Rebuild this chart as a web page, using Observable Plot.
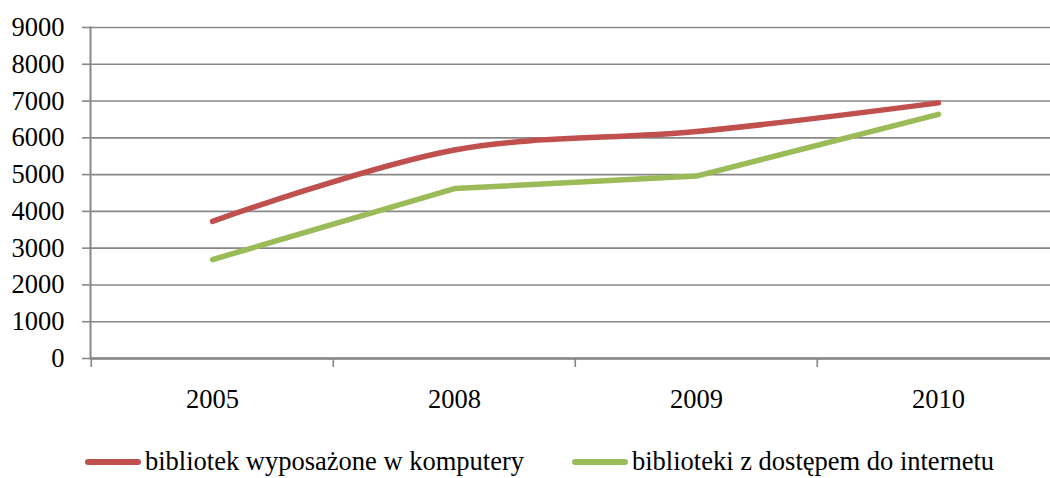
<!DOCTYPE html>
<html>
<head>
<meta charset="utf-8">
<script src="https://cdn.jsdelivr.net/npm/d3@7"></script>
<script src="https://cdn.jsdelivr.net/npm/@observablehq/plot@0.6"></script>
<style>
  html, body { margin: 0; padding: 0; background: #fff; overflow: hidden; }
  #chart { width: 1060px; }
  .legend { position: relative; height: 58px; font-family: "Liberation Serif", "Times New Roman", serif; font-size: 26.5px; color: #000; }
  .item { position: absolute; top: 26px; display: flex; align-items: center; white-space: nowrap; }
  .sw { display: inline-block; width: 56px; height: 6px; border-radius: 3px; margin-right: 4px; }
</style>
</head>
<body>
<div id="chart"></div>
<script>
const years = ["2005", "2008", "2009", "2010"];
const komputery = [3730, 5670, 6170, 6950];
const internet = [2690, 4620, 4960, 6640];
const seriesNames = ["bibliotek wyposażone w komputery", "biblioteki z dostępem do internetu"];
const colors = ["#C0504D", "#9BBB59"];
const yTicks = d3.range(0, 9001, 1000);

const data1 = years.map((y, i) => ({year: y, value: komputery[i]}));
const data2 = years.map((y, i) => ({year: y, value: internet[i]}));

const W = 1060, ML = 90, MR = 0;
const bw = (W - ML - MR) / years.length;
const grid = "#878787";
const font = '"Liberation Serif", "Times New Roman", serif';

const chart = Plot.plot({
  width: W,
  height: 420,
  marginLeft: ML,
  marginRight: MR,
  marginTop: 27,
  marginBottom: 62,
  style: {fontFamily: font, fontSize: "26.5px", color: "#000", background: "#fff"},
  x: {type: "band", domain: years, padding: 0},
  y: {domain: [0, 9000], ticks: yTicks},
  marks: [
    Plot.gridY(yTicks, {stroke: grid, strokeOpacity: 1, strokeWidth: 1.6}),
    Plot.axisY(yTicks, {tickSize: 8, tickPadding: 18, stroke: grid, strokeWidth: 1.6, fill: "#000", fontSize: 26.5, label: null, tickFormat: d => String(d)}),
    Plot.frame({anchor: "left", stroke: grid, strokeWidth: 2}),
    Plot.axisX({tickSize: 9, text: null, dx: -bw / 2, stroke: grid, strokeWidth: 1.6, label: null}),
    Plot.axisX({tickSize: 0, tickPadding: 31, fill: "#000", fontSize: 26.5, label: null}),
    Plot.ruleY([0], {stroke: grid, strokeWidth: 2.6}),
    Plot.line(data1, {x: "year", y: "value", stroke: colors[0], strokeWidth: 5.5, curve: "catmull-rom", strokeLinecap: "round"}),
    Plot.line(data2, {x: "year", y: "value", stroke: colors[1], strokeWidth: 5.5, strokeLinecap: "round", strokeLinejoin: "round"})
  ]
});
document.getElementById("chart").appendChild(chart);

const legend = document.createElement("div");
legend.className = "legend";
const lefts = [85, 572];
seriesNames.forEach((name, i) => {
  const it = document.createElement("div");
  it.className = "item";
  it.style.left = lefts[i] + "px";
  const sw = document.createElement("span");
  sw.className = "sw";
  sw.style.background = colors[i];
  const tx = document.createElement("span");
  tx.textContent = name;
  it.appendChild(sw);
  it.appendChild(tx);
  legend.appendChild(it);
});
document.body.appendChild(legend);
</script>
</body>
</html>
